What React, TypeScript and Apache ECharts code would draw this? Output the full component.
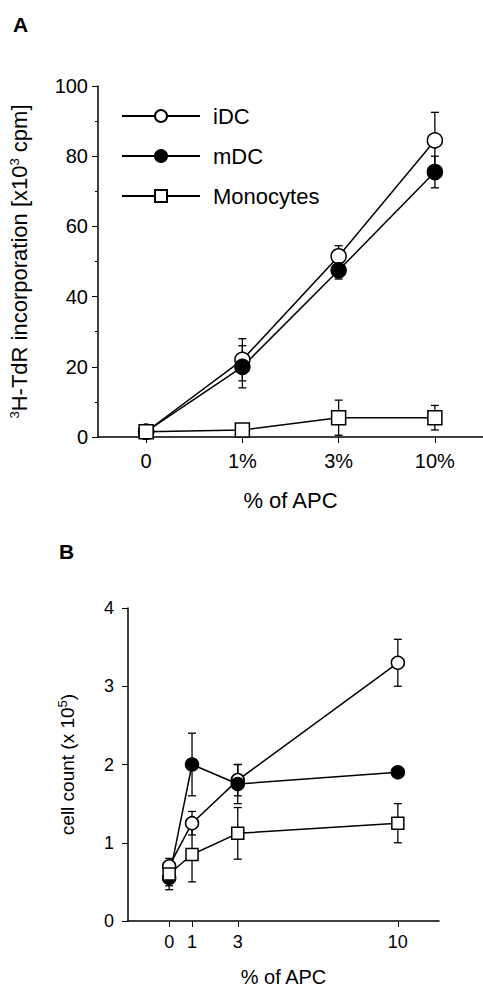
import React, { useEffect, useRef } from 'react';
import * as echarts from 'echarts';

// Panel A
const catsA = ['0', '1%', '3%', '10%'];
const iDCA = [1.5, 22, 51.5, 84.5];
const iDCAErr = [0, 6, 3, 8];
const mDCA = [1.5, 20, 47.5, 75.5];
const mDCAErr = [0, 6, 2.5, 4.5];
const monoA = [1.5, 2, 5.5, 5.5];
const monoAErr = [0, 0, 5, 3.5];

// Panel B
const xB = [0, 1, 3, 10];
const iDCB = [0.7, 1.25, 1.8, 3.3];
const iDCBErr = [0.05, 0.15, 0.2, 0.3];
const mDCB = [0.55, 2.0, 1.75, 1.9];
const mDCBErr = [0.1, 0.4, 0.25, 0];
const monoB = [0.6, 0.85, 1.12, 1.25];
const monoBErr = [0.2, 0.35, 0.33, 0.25];

const FONT = 'Liberation Sans, Arial, sans-serif';

const errSeries = (xs: (number | string)[], ys: number[], errs: number[], idx: number, cap: number) => ({
  type: 'custom',
  xAxisIndex: idx,
  yAxisIndex: idx,
  silent: true,
  z: 1,
  data: ys.map((y, i) => [typeof xs[i] === 'string' ? i : xs[i], y - errs[i], y + errs[i]]),
  renderItem: (params: any, api: any) => {
    const lo = api.coord([api.value(0), api.value(1)]);
    const hi = api.coord([api.value(0), api.value(2)]);
    const st = { stroke: '#000', lineWidth: 1.3 };
    return {
      type: 'group',
      children: [
        { type: 'line', shape: { x1: lo[0], y1: lo[1], x2: hi[0], y2: hi[1] }, style: st },
        { type: 'line', shape: { x1: lo[0] - cap, y1: lo[1], x2: lo[0] + cap, y2: lo[1] }, style: st },
        { type: 'line', shape: { x1: hi[0] - cap, y1: hi[1], x2: hi[0] + cap, y2: hi[1] }, style: st },
      ],
    };
  },
});

const lineSeries = (name: string, data: any[], idx: number, symbol: string, filled: boolean, size: number) => ({
  name,
  type: 'line',
  xAxisIndex: idx,
  yAxisIndex: idx,
  data,
  symbol,
  symbolSize: size,
  showAllSymbol: true,
  z: 3,
  lineStyle: { color: '#000', width: 1.5 },
  itemStyle: { color: filled ? '#000' : '#fff', borderColor: '#000', borderWidth: 1.5 },
});

const App: React.FC = () => {
  const chartRef = useRef<HTMLDivElement>(null);

  useEffect(() => {
    document.body.style.margin = '0';
    if (!chartRef.current) return;
    const chart = echarts.init(chartRef.current, undefined, { renderer: 'svg' });

    const axisLine = { show: true, onZero: false, lineStyle: { color: '#000', width: 1.5 } };
    const label = { color: '#000', fontFamily: FONT, fontSize: 20 };
    const sup = { fontSize: 13, verticalAlign: 'top', padding: [0, 0, 9, 0], fontFamily: FONT, color: '#000' };

    const option = {
      animation: false,
      textStyle: { fontFamily: FONT },
      graphic: [
        { type: 'text', left: 13, top: 14, style: { text: 'A', font: `bold 21px ${FONT}`, fill: '#000' } },
        { type: 'text', left: 59, top: 541, style: { text: 'B', font: `bold 21px ${FONT}`, fill: '#000' } },
      ],
      legend: {
        data: ['iDC', 'mDC', 'Monocytes'],
        orient: 'vertical',
        left: 116,
        top: 100,
        itemWidth: 78,
        itemHeight: 15,
        itemGap: 18,
        textStyle: { color: '#000', fontSize: 22, fontFamily: FONT, padding: [0, 0, 0, 8] },
      },
      grid: [
        { left: 98, top: 86, width: 388, height: 351 },
        { left: 128, top: 608, width: 311, height: 316 },
      ],
      xAxis: [
        {
          type: 'category',
          gridIndex: 0,
          data: catsA,
          axisLine,
          axisTick: { show: true, alignWithLabel: true, length: 6, lineStyle: { color: '#000' } },
          axisLabel: { ...label, margin: 14 },
          name: '% of APC',
          nameLocation: 'middle',
          nameGap: 52,
          nameTextStyle: { ...label, fontSize: 22 },
        },
        {
          type: 'value',
          gridIndex: 1,
          min: -1.8,
          max: 11.8,
          splitLine: { show: false },
          axisLine,
          axisTick: { show: true, customValues: xB, length: 6, lineStyle: { color: '#000' } },
          axisLabel: { ...label, fontSize: 18, customValues: xB, margin: 12 },
          name: '% of APC',
          nameLocation: 'middle',
          nameGap: 46,
          nameTextStyle: { ...label, fontSize: 20 },
        },
      ],
      yAxis: [
        {
          type: 'value',
          gridIndex: 0,
          min: 0,
          max: 100,
          interval: 20,
          splitLine: { show: false },
          axisLine,
          axisTick: { show: true, length: 6, lineStyle: { color: '#000' } },
          minorTick: { show: true, splitNumber: 2, length: 3, lineStyle: { color: '#000' } },
          axisLabel: { ...label, margin: 10 },
          name: '{sup|3}H-TdR incorporation [x10{sup|3} cpm]',
          nameLocation: 'middle',
          nameGap: 68,
          nameTextStyle: { color: '#000', fontSize: 22, fontFamily: FONT, rich: { sup } },
        },
        {
          type: 'value',
          gridIndex: 1,
          min: 0,
          max: 4,
          interval: 1,
          splitLine: { show: false },
          axisLine,
          axisTick: { show: true, length: 6, lineStyle: { color: '#000' } },
          axisLabel: { ...label, fontSize: 18, margin: 14 },
          name: 'cell count (x 10{sup|5})',
          nameLocation: 'middle',
          nameGap: 50,
          nameTextStyle: { color: '#000', fontSize: 19, fontFamily: FONT, rich: { sup } },
        },
      ],
      series: [
        errSeries(catsA, iDCA, iDCAErr, 0, 4),
        errSeries(catsA, mDCA, mDCAErr, 0, 4),
        errSeries(catsA, monoA, monoAErr, 0, 4),
        lineSeries('iDC', iDCA, 0, 'circle', false, 15),
        lineSeries('mDC', mDCA, 0, 'circle', true, 15),
        lineSeries('Monocytes', monoA, 0, 'rect', false, 14),
        errSeries(xB, iDCB, iDCBErr, 1, 4),
        errSeries(xB, mDCB, mDCBErr, 1, 4),
        errSeries(xB, monoB, monoBErr, 1, 4),
        lineSeries('iDC', xB.map((x, i) => [x, iDCB[i]]), 1, 'circle', false, 13),
        lineSeries('mDC', xB.map((x, i) => [x, mDCB[i]]), 1, 'circle', true, 13),
        lineSeries('Monocytes', xB.map((x, i) => [x, monoB[i]]), 1, 'rect', false, 12),
      ],
    };

    chart.setOption(option as any);
    return () => chart.dispose();
  }, []);

  return <div ref={chartRef} style={{ width: 483, height: 988 }} />;
};

export default App;
